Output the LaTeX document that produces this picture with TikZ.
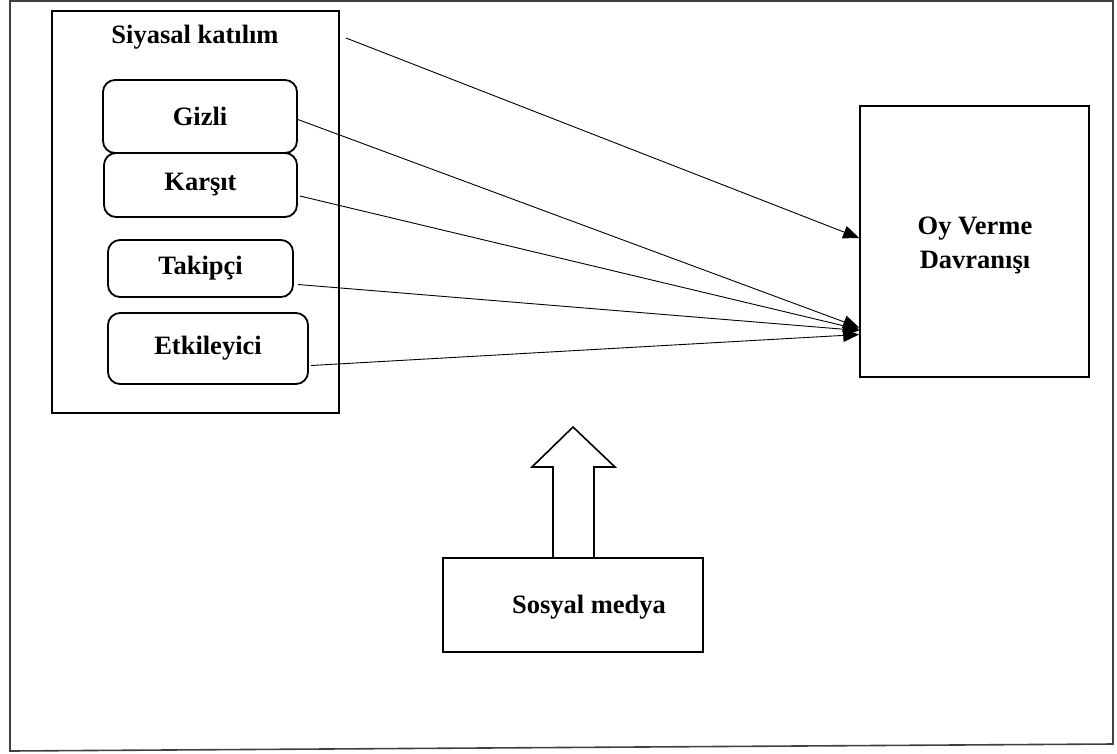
\documentclass[tikz,border=0pt]{standalone}
\usepackage{fontspec}
\setmainfont{Liberation Serif}
\usetikzlibrary{arrows.meta,calc}
\tikzset{
  lbl/.style={font=\fontsize{26.5}{34}\selectfont\bfseries, align=center, inner sep=0pt},
  subbox/.style={draw, line width=1.8pt, rounded corners=12pt, inner sep=0pt},
  plainbox/.style={draw, line width=1.6pt, inner sep=0pt},
  conn/.style={line width=0.9pt, -{Triangle[length=16pt,width=13pt]}},
}
\begin{document}
\begin{tikzpicture}[x=1pt,y=-1pt]
\useasboundingbox (0,0) rectangle (1117,753);
% outer frame
\draw[line width=1.6pt, black!75] (10,1) -- (1113,1) -- (1113,744) -- (10,751) -- cycle;
% Siyasal katilim group
\node[plainbox, line width=1.2pt, minimum width=287pt, minimum height=402pt] (grp) at (195.5,212) {};
\node[lbl] (title) at (195,37) {Siyasal katılım};
\coordinate (titleout) at (346,38);
\node[subbox, minimum width=194pt, minimum height=73pt] (gizli) at (200,116.5) {};
\node[lbl] at (gizli.center) {Gizli};
\node[subbox, minimum width=193pt, minimum height=64pt] (karsit) at (200.5,185) {};
\node[lbl] at (karsit.center) {Karşıt};
\node[subbox, minimum width=185pt, minimum height=57pt] (takipci) at (200.5,268.5) {};
\node[lbl] at (takipci.center) {Takipçi};
\node[subbox, minimum width=200pt, minimum height=71pt] (etki) at (208,348.5) {};
\node[lbl] at (etki.center) {Etkileyici};
% Oy Verme
\node[plainbox, minimum width=229pt, minimum height=271pt] (oy) at (974.5,241.5) {};
\node[lbl] at (975,245) {Oy Verme\\Davranışı};
% Sosyal medya
\node[plainbox, minimum width=260pt, minimum height=94pt] (sm) at (573,605) {};
\node[lbl] at (589,607) {Sosyal medya};
% connectors
\draw[conn] (titleout) -- ([yshift=3.5pt]oy.west);
\draw[conn] ([yshift=-3pt]gizli.east) -- ([yshift=-86pt]oy.west);
\draw[conn] ([xshift=2pt,yshift=-11pt]karsit.east) -- ([yshift=-88pt]oy.west);
\draw[conn] ([xshift=4pt,yshift=-16pt]takipci.east) -- ([yshift=-89pt]oy.west);
\draw[conn] ([xshift=2pt,yshift=-17pt]etki.east) -- ([yshift=-93pt]oy.west);
% block arrow
\draw[line width=1.6pt, fill=white, line join=miter]
  (553,558) -- (553,467) -- (532,467) -- (573,427) -- (615,467) -- (594,467) -- (594,558) -- cycle;
\end{tikzpicture}
\end{document}
